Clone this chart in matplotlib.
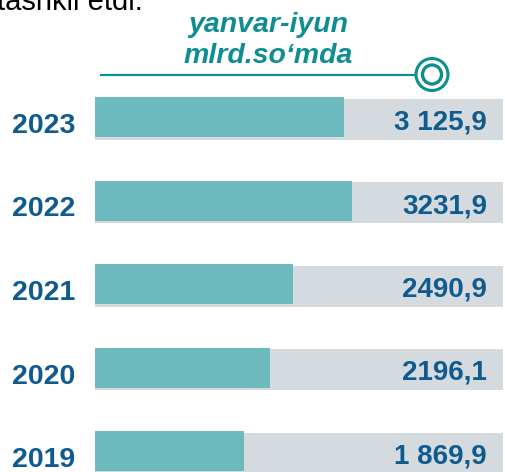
import numpy as np
import matplotlib.pyplot as plt
from matplotlib.patches import Circle

plt.rcParams['font.family'] = ['Liberation Sans', 'DejaVu Sans']

years = ['2023', '2022', '2021', '2020', '2019']
values = [3125.9, 3231.9, 2490.9, 2196.1, 1869.9]
value_labels = ['3 125,9', '3231,9', '2490,9', '2196,1', '1 869,9']
title_lines = ['yanvar-iyun', 'mlrd.so\u2018mda']
top_text = 'tashkil etdi.'

W, H = 505, 472
teal = '#6cb9be'
track = '#d5dadf'
navy = '#0f5b8f'
title_col = '#0e8e93'

# pixel layout
x0 = 95          # bar start, px
px_per_unit = 0.0795
y_first = 117    # first bar centre, px
y_step = 83.5    # px between bars

fig = plt.figure(figsize=(W / 100, H / 100), dpi=100)
ax = fig.add_axes([0, 0, 1, 1])
ax.set_xlim(-x0 / px_per_unit, (W - x0) / px_per_unit)
ax.set_ylim((H - y_first) / y_step, -y_first / y_step)
ax.axis('off')

pos = np.arange(len(years))
px_y = 1 / y_step  # one pixel in y data units
track_end = (503 - x0) / px_per_unit

ax.barh(pos + 2 * px_y, track_end, height=41 * px_y, left=0, color=track, zorder=1)
ax.barh(pos, values, height=40 * px_y, left=0, color=teal, zorder=2)

for i in range(len(years)):
    ax.text((44 - x0) / px_per_unit, pos[i] + 16 * px_y, years[i], ha='center', va='baseline',
            fontsize=20.5, fontweight='bold', color=navy, zorder=3)
    ax.text((487 - x0) / px_per_unit, pos[i] + 12.5 * px_y, value_labels[i], ha='right', va='baseline',
            fontsize=20, fontweight='bold', color=navy, zorder=3)

# decorations in pixel coordinates
deco = fig.add_axes([0, 0, 1, 1], facecolor='none')
deco.set_xlim(0, W)
deco.set_ylim(H, 0)
deco.axis('off')

deco.text(-3, 10, top_text, fontsize=21, color='black', ha='left', va='baseline')
deco.text(268, 32, title_lines[0], fontsize=20.5, fontweight='bold', fontstyle='italic',
          color=title_col, ha='center', va='baseline')
deco.text(268, 63, title_lines[1], fontsize=20.5, fontweight='bold', fontstyle='italic',
          color=title_col, ha='center', va='baseline')

deco.plot([100, 415], [74.5, 74.5], color=title_col, lw=1.6, solid_capstyle='butt')
deco.add_patch(Circle((432, 74.5), 16, fill=False, ec=title_col, lw=2.2))
deco.add_patch(Circle((432, 74.5), 9.5, fill=False, ec=title_col, lw=2.4))

fig.savefig('out.png', dpi=100)
